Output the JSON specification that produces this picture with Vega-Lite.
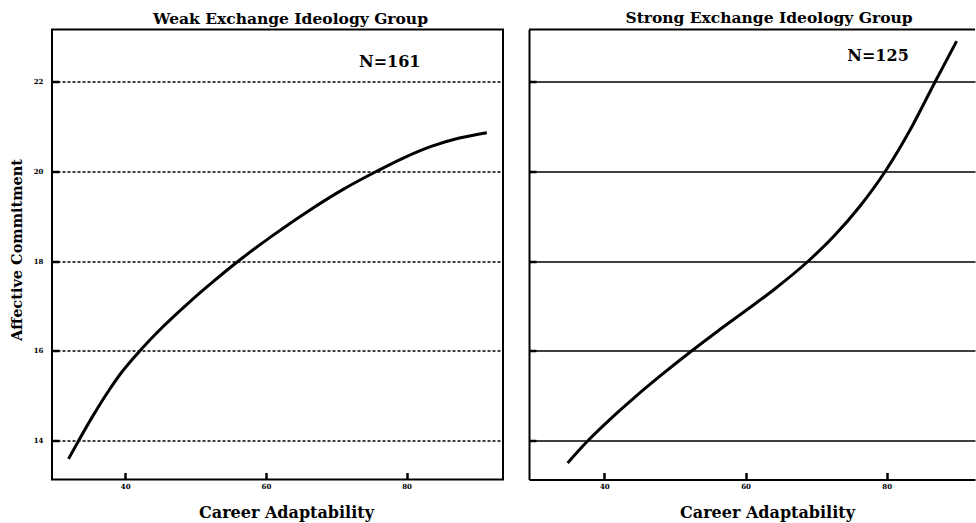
{
  "$schema": "https://vega.github.io/schema/vega-lite/v6.json",
  "background": "white",
  "padding": {"left": 8, "top": 10.5, "right": 0, "bottom": 0},
  "spacing": 23,
  "config": {
    "font": "DejaVu Serif",
    "view": {"stroke": "black", "strokeWidth": 2},
    "title": {"font": "DejaVu Serif", "fontSize": 15.5, "fontWeight": "bold", "color": "black", "offset": 2, "anchor": "middle"},
    "axis": {
      "labelFont": "DejaVu Serif", "labelFontSize": 7, "labelFontWeight": "bold", "labelColor": "black",
      "titleFont": "DejaVu Serif", "titleFontWeight": "bold", "titleColor": "black",
      "domain": false, "tickColor": "black", "tickWidth": 2.5, "tickSize": -7
    }
  },
  "datasets": {
    "weak": [
      {"career": 31.95, "commitment": 13.59},
      {"career": 33.4, "commitment": 14.0},
      {"career": 35.5, "commitment": 14.57},
      {"career": 37.75, "commitment": 15.13},
      {"career": 39.5, "commitment": 15.52},
      {"career": 42.1, "commitment": 16.0},
      {"career": 45.4, "commitment": 16.54},
      {"career": 49.1, "commitment": 17.08},
      {"career": 52.5, "commitment": 17.54},
      {"career": 56.1, "commitment": 18.0},
      {"career": 60.9, "commitment": 18.56},
      {"career": 65.9, "commitment": 19.1},
      {"career": 70.8, "commitment": 19.58},
      {"career": 75.75, "commitment": 20.0},
      {"career": 79.6, "commitment": 20.3},
      {"career": 83.6, "commitment": 20.56},
      {"career": 87.5, "commitment": 20.74},
      {"career": 91.4, "commitment": 20.86}
    ],
    "strong": [
      {"career": 34.8, "commitment": 13.5},
      {"career": 37.7, "commitment": 14.0},
      {"career": 41.0, "commitment": 14.5},
      {"career": 44.5, "commitment": 14.99},
      {"career": 48.0, "commitment": 15.45},
      {"career": 52.4, "commitment": 16.0},
      {"career": 56.0, "commitment": 16.43},
      {"career": 60.0, "commitment": 16.89},
      {"career": 64.0, "commitment": 17.36},
      {"career": 68.9, "commitment": 18.0},
      {"career": 72.5, "commitment": 18.55},
      {"career": 76.2, "commitment": 19.22},
      {"career": 79.8, "commitment": 20.0},
      {"career": 83.3, "commitment": 20.92},
      {"career": 86.8, "commitment": 21.98},
      {"career": 89.9, "commitment": 22.9}
    ],
    "labels": [
      {"group": "weak", "n": "N=161"},
      {"group": "strong", "n": "N=125"}
    ]
  },
  "hconcat": [
    {
      "width": 451,
      "height": 450,
      "title": {"text": "Weak Exchange Ideology Group", "dx": 13},
      "layer": [
        {
          "data": {"name": "weak"},
          "mark": {"type": "line", "color": "black", "strokeWidth": 3, "interpolate": "monotone"},
          "encoding": {
            "x": {"field": "career", "type": "quantitative",
              "scale": {"domain": [29.6, 93.7], "nice": false, "zero": false},
              "axis": {"values": [40, 60, 80], "grid": false, "title": "Career Adaptability", "titleFontSize": 16, "titlePadding": 15, "labelPadding": 10, "titleX": 234}},
            "y": {"field": "commitment", "type": "quantitative",
              "scale": {"domain": [13.13, 23.16], "nice": false, "zero": false},
              "axis": {"values": [14, 16, 18, 20, 22], "grid": true, "gridColor": "black", "gridWidth": 1.5, "gridDash": [3, 2], "gridOpacity": 1,
                "title": "Affective Commitment", "titleFontSize": 14.5, "titlePadding": 10.5, "titleY": 220, "labelPadding": 16, "minExtent": 17, "maxExtent": 17}}
          }
        },
        {
          "data": {"name": "labels"},
          "transform": [{"filter": "datum.group === 'weak'"}],
          "mark": {"type": "text", "fontSize": 16, "fontWeight": "bold", "font": "DejaVu Serif", "color": "black"},
          "encoding": {
            "x": {"datum": 77.6},
            "y": {"datum": 22.43},
            "text": {"field": "n"}
          }
        }
      ]
    },
    {
      "width": 446,
      "height": 450,
      "title": {"text": "Strong Exchange Ideology Group", "dx": 17},
      "view": {"stroke": null},
      "layer": [
        {
          "data": {"name": "strong"},
          "mark": {"type": "line", "color": "black", "strokeWidth": 3, "interpolate": "monotone"},
          "encoding": {
            "x": {"field": "career", "type": "quantitative",
              "scale": {"domain": [29.33, 92.5], "nice": false, "zero": false},
              "axis": {"values": [40, 60, 80], "grid": false, "domain": true, "domainColor": "black", "domainWidth": 2, "title": "Career Adaptability", "titleFontSize": 16, "titlePadding": 15, "labelPadding": 10, "titleX": 238}},
            "y": {"field": "commitment", "type": "quantitative",
              "scale": {"domain": [13.13, 23.16], "nice": false, "zero": false},
              "axis": {"values": [14, 16, 18, 20, 22], "grid": true, "gridColor": "black", "gridWidth": 1.5, "gridOpacity": 1,
                "domain": true, "domainColor": "black", "domainWidth": 2, "labels": false, "title": null}}
          }
        },
        {
          "data": {"name": "labels"},
          "transform": [{"filter": "datum.group === 'strong'"}],
          "mark": {"type": "rule", "color": "black", "strokeWidth": 2},
          "encoding": {"y": {"datum": 23.16}}
        },
        {
          "data": {"name": "labels"},
          "transform": [{"filter": "datum.group === 'strong'"}],
          "mark": {"type": "text", "fontSize": 16, "fontWeight": "bold", "font": "DejaVu Serif", "color": "black"},
          "encoding": {
            "x": {"datum": 78.77},
            "y": {"datum": 22.58},
            "text": {"field": "n"}
          }
        }
      ]
    }
  ]
}
